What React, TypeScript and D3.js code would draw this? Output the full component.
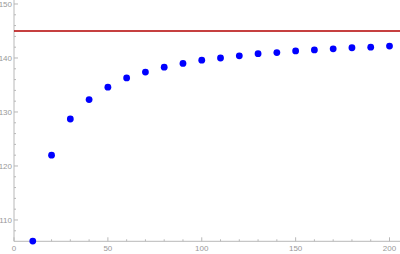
import { useEffect, useRef } from "react";
import * as d3 from "d3";

const xValues = [10, 20, 30, 40, 50, 60, 70, 80, 90, 100, 110, 120, 130, 140, 150, 160, 170, 180, 190, 200];
const yValues = [106.1, 122.0, 128.7, 132.3, 134.6, 136.3, 137.4, 138.3, 139.0, 139.6, 140.0, 140.4, 140.8, 141.0, 141.3, 141.5, 141.7, 141.9, 142.0, 142.2];
const limitValue = 145;
const xTicks = [0, 50, 100, 150, 200];
const yTicks = [110, 120, 130, 140, 150];

const W = 400;
const H = 254;

const App = () => {
  const svgRef = useRef<SVGSVGElement>(null);

  useEffect(() => {
    const svg = d3.select(svgRef.current);
    svg.selectAll("*").remove();

    const x = d3.scaleLinear().domain([0, 200]).range([14, 389.5]);
    const y = d3.scaleLinear().domain([106.05, 150.74]).range([241.3, 0]);
    const axisColor = "#b8b8b8";
    const labelColor = "#999999";
    const font = "Liberation Sans, Arial, sans-serif";

    const g = svg.append("g");

    // axes lines
    g.append("line")
      .attr("x1", x(0)).attr("x2", W)
      .attr("y1", y.range()[0]).attr("y2", y.range()[0])
      .attr("stroke", axisColor).attr("stroke-width", 1);
    g.append("line")
      .attr("x1", x(0)).attr("x2", x(0))
      .attr("y1", 0).attr("y2", y.range()[0])
      .attr("stroke", axisColor).attr("stroke-width", 1);

    // x ticks (minor every 10)
    const xMinor = d3.range(10, 210, 10).filter((v) => v % 50 !== 0);
    xMinor.forEach((v) => {
      g.append("line")
        .attr("x1", x(v)).attr("x2", x(v))
        .attr("y1", y.range()[0]).attr("y2", y.range()[0] - 2)
        .attr("stroke", axisColor);
    });
    xTicks.forEach((v) => {
      g.append("line")
        .attr("x1", x(v)).attr("x2", x(v))
        .attr("y1", y.range()[0]).attr("y2", y.range()[0] - 4)
        .attr("stroke", axisColor);
      g.append("text")
        .attr("x", x(v))
        .attr("y", 250.7)
        .attr("text-anchor", "middle")
        .attr("font-family", font)
        .attr("font-size", "8px")
        .attr("fill", labelColor)
        .text(v);
    });

    // y ticks (minor every 2)
    const yMinor = d3.range(108, 151, 2).filter((v) => v % 10 !== 0);
    yMinor.forEach((v) => {
      g.append("line")
        .attr("x1", x(0)).attr("x2", x(0) + 2)
        .attr("y1", y(v)).attr("y2", y(v))
        .attr("stroke", axisColor);
    });
    yTicks.forEach((v) => {
      g.append("line")
        .attr("x1", x(0)).attr("x2", x(0) + 4)
        .attr("y1", y(v)).attr("y2", y(v))
        .attr("stroke", axisColor);
      g.append("text")
        .attr("x", x(0) - 2)
        .attr("y", y(v) + 2.9)
        .attr("text-anchor", "end")
        .attr("font-family", font)
        .attr("font-size", "8px")
        .attr("fill", labelColor)
        .text(v);
    });

    // limit line
    g.append("line")
      .attr("x1", x(0)).attr("x2", W)
      .attr("y1", y(limitValue)).attr("y2", y(limitValue))
      .attr("stroke", "#b30000")
      .attr("stroke-width", 1.6);

    // points
    g.selectAll(".pt")
      .data(xValues)
      .enter()
      .append("circle")
      .attr("class", "pt")
      .attr("cx", (d) => x(d))
      .attr("cy", (_, i) => y(yValues[i]))
      .attr("r", 3.4)
      .attr("fill", "#0000ff");
  }, []);

  return (
    <svg
      ref={svgRef}
      width={W}
      height={H}
      style={{ position: "absolute", left: 0, top: 0, background: "#fff" }}
    ></svg>
  );
};

export default App;
